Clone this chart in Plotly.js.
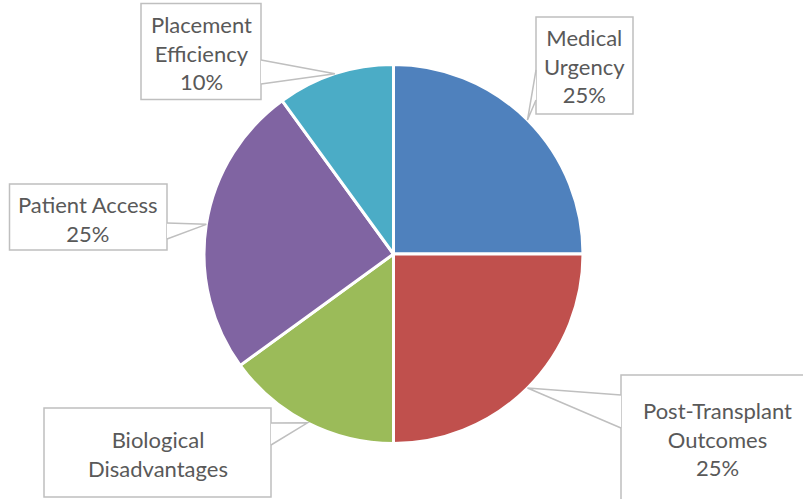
<!DOCTYPE html>
<html>
<head>
<meta charset="utf-8">
<script src="https://cdn.plot.ly/plotly-3.0.1.min.js"></script>
<style>html,body{margin:0;padding:0;background:#fff;overflow:hidden;}#chart{width:803px;height:499px;}</style>
</head>
<body>
<div id="chart"></div>
<script>
// ---- data ----
const categories = ["Medical Urgency", "Post-Transplant Outcomes", "Biological Disadvantages", "Patient Access", "Placement Efficiency"];
const values = [25, 25, 15, 25, 10];
const colors = ["#4F81BD", "#C0504D", "#9BBB59", "#8064A2", "#4BACC6"];
const labelTexts = ["Medical<br>Urgency<br>25%", "Post-Transplant<br>Outcomes<br>25%", "Biological<br>Disadvantages", "Patient Access<br>25%", "Placement<br>Efficiency<br>10%"];

// ---- layout geometry (pixels) ----
const W = 803, H = 499;
const cx = 393.5, cy = 254, r = 189.5;
// callout boxes: [left, top, right, bottom]
const boxes = [[536, 17, 633, 114], [621, 375, 880, 560], [44, 408, 271, 497], [9.5, 184, 167, 250], [141, 3.5, 261, 99.5]];
// callout wedge base points on the box edge
const wedgeBase = [[[536, 70], [536, 100]], [[621, 395], [621, 428]], [[271, 423], [271, 445]], [[167, 223], [167, 239]], [[261, 60], [261, 84]]];
// text centres: [x, y]
const textPos = [[584.5, 66], [717, 439], [158, 454], [88, 219], [201, 53]];

const px2x = p => p / W;
const px2y = p => 1 - p / H;
const pt = p => px2x(p[0]) + ',' + px2y(p[1]);

function boxPath(b) {
  const c = [[b[0], b[1]], [b[2], b[1]], [b[2], b[3]], [b[0], b[3]]];
  const vis = [b[1] >= 0, b[2] <= W, b[3] <= H, b[0] >= 0];
  if (vis.every(Boolean)) return 'M' + c.map(pt).join(' L') + ' Z';
  const k = vis.indexOf(false);
  let path = '', pen = false;
  for (let j = 1; j <= 3; j++) {
    const s = (k + j) % 4;
    if (vis[s]) {
      if (!pen) { path += 'M' + pt(c[s]) + ' '; pen = true; }
      path += 'L' + pt(c[(s + 1) % 4]) + ' ';
    } else pen = false;
  }
  return path.trim();
}

const total = values.reduce((a, b) => a + b, 0);
let cum = 0;
const shapes = [];
const annotations = [];
const lineStyle = {color: '#bfbfbf', width: 1.5};
values.forEach((v, i) => {
  const m = (cum + v / 2) / total;
  cum += v;
  const th = 2 * Math.PI * m;
  const px = cx + r * Math.sin(th);
  const py = cy - r * Math.cos(th);
  shapes.push({
    type: 'path', xref: 'paper', yref: 'paper', layer: 'above',
    path: boxPath(boxes[i]), line: lineStyle, fillcolor: '#ffffff'
  });
  const w = wedgeBase[i];
  shapes.push({
    type: 'path', xref: 'paper', yref: 'paper', layer: 'above',
    path: 'M' + pt(w[0]) + ' L' + pt([px, py]) + ' L' + pt(w[1]),
    line: lineStyle, fillcolor: '#ffffff'
  });
  annotations.push({
    xref: 'paper', yref: 'paper',
    x: px2x(textPos[i][0]), y: px2y(textPos[i][1]),
    xanchor: 'center', yanchor: 'middle',
    text: labelTexts[i], showarrow: false, align: 'center',
    font: {family: 'Lato, "Open Sans", sans-serif', size: 22, color: '#595959'}
  });
});

const trace = {
  type: 'pie',
  labels: categories,
  values: values,
  sort: false,
  direction: 'clockwise',
  rotation: 0,
  textinfo: 'none',
  hoverinfo: 'none',
  marker: {colors: colors, line: {color: '#ffffff', width: 3}},
  domain: {x: [(cx - 300) / W, (cx + 300) / W], y: [1 - (cy + r) / H, 1 - (cy - r) / H]},
  showlegend: false
};

Plotly.newPlot('chart', [trace], {
  width: W, height: H,
  margin: {l: 0, r: 0, t: 0, b: 0},
  paper_bgcolor: '#ffffff',
  showlegend: false,
  shapes: shapes,
  annotations: annotations
}, {displayModeBar: false, staticPlot: true});
</script>
</body>
</html>
